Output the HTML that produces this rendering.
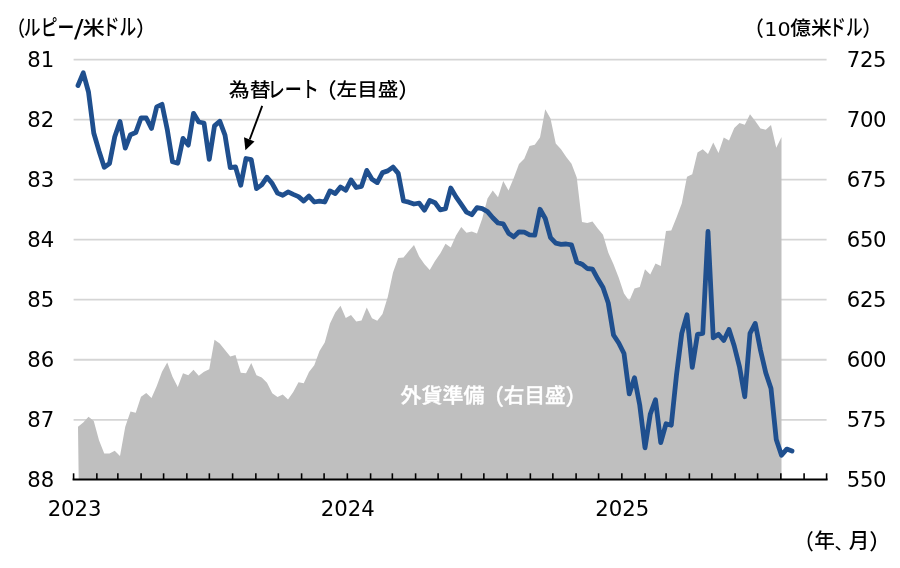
<!DOCTYPE html>
<html lang="ja"><head><meta charset="utf-8"><title>為替レートと外貨準備</title>
<style>html,body{margin:0;padding:0;background:#fff}svg{display:block}text{white-space:pre}</style>
</head><body>
<svg width="900" height="568" viewBox="0 0 900 568">
<rect width="900" height="568" fill="#fff"/>
<line x1="73.6" x2="826.6" y1="59.60" y2="59.60" stroke="#d5d5d5" stroke-width="1.8"/>
<line x1="73.6" x2="826.6" y1="119.63" y2="119.63" stroke="#d5d5d5" stroke-width="1.8"/>
<line x1="73.6" x2="826.6" y1="179.66" y2="179.66" stroke="#d5d5d5" stroke-width="1.8"/>
<line x1="73.6" x2="826.6" y1="239.69" y2="239.69" stroke="#d5d5d5" stroke-width="1.8"/>
<line x1="73.6" x2="826.6" y1="299.72" y2="299.72" stroke="#d5d5d5" stroke-width="1.8"/>
<line x1="73.6" x2="826.6" y1="359.75" y2="359.75" stroke="#d5d5d5" stroke-width="1.8"/>
<line x1="73.6" x2="826.6" y1="419.78" y2="419.78" stroke="#d5d5d5" stroke-width="1.8"/>
<polygon fill="#bfbfbf" points="78.70,479.6 78.00,426.8 83.25,422.6 88.50,416.8 93.75,421.0 99.00,440.2 104.25,453.6 109.50,453.6 114.75,450.7 120.00,456.1 125.25,426.8 130.50,411.5 135.75,412.7 141.00,396.8 146.25,393.1 151.50,398.1 156.75,386.0 162.00,371.8 167.25,362.6 172.50,376.8 177.75,386.9 183.00,373.2 188.25,375.2 193.50,369.8 198.75,375.7 204.00,371.8 209.25,369.3 214.50,339.7 219.75,343.4 225.00,350.1 230.25,356.4 235.50,355.1 240.75,372.7 246.00,373.2 251.25,363.1 256.50,375.2 261.75,377.5 267.00,382.8 272.25,393.2 277.50,397.0 282.75,394.5 288.00,399.5 293.25,392.0 298.50,382.3 303.75,383.3 309.00,371.9 314.25,365.2 319.50,351.0 324.75,342.6 330.00,323.4 335.25,312.5 340.50,305.8 345.75,318.0 351.00,315.0 356.25,321.4 361.50,320.4 366.75,307.4 372.00,318.3 377.25,320.8 382.50,313.9 387.75,296.9 393.00,272.6 398.25,258.1 403.50,257.6 408.75,250.9 414.00,245.1 419.25,256.8 424.50,264.3 429.75,270.1 435.00,260.9 440.25,253.4 445.50,243.7 450.75,247.6 456.00,235.6 461.25,226.9 466.50,232.8 471.75,231.6 477.00,233.6 482.25,218.6 487.50,198.5 492.75,190.6 498.00,197.2 503.25,181.0 508.50,190.5 513.75,178.0 519.00,163.9 524.25,158.7 529.50,146.0 534.75,144.8 540.00,137.6 545.25,109.2 550.50,118.4 555.75,143.5 561.00,149.3 566.25,156.9 571.50,163.7 576.75,177.5 582.00,222.0 587.25,223.0 592.50,221.5 597.75,228.4 603.00,234.7 608.25,252.6 613.50,264.3 618.75,277.7 624.00,293.6 629.25,301.1 634.50,288.6 639.75,286.9 645.00,269.3 650.25,274.4 655.50,263.5 660.75,266.0 666.00,230.9 671.25,230.4 676.50,217.5 681.75,203.6 687.00,176.8 692.25,174.2 697.50,152.6 702.75,149.3 708.00,154.0 713.25,142.6 718.50,153.0 723.75,137.6 729.00,140.5 734.25,128.1 739.50,123.1 744.75,124.8 750.00,114.3 755.25,121.0 760.50,128.5 765.75,129.8 771.00,125.1 776.25,147.7 781.50,137.0 781.50,479.6"/>
<line x1="72.6" x2="827.6" y1="479.6" y2="479.6" stroke="#000" stroke-width="2"/>
<line x1="73.60" x2="73.60" y1="473.3" y2="479.6" stroke="#000" stroke-width="1.6"/>
<line x1="96.85" x2="96.85" y1="473.3" y2="479.6" stroke="#000" stroke-width="1.6"/>
<line x1="117.85" x2="117.85" y1="473.3" y2="479.6" stroke="#000" stroke-width="1.6"/>
<line x1="141.10" x2="141.10" y1="473.3" y2="479.6" stroke="#000" stroke-width="1.6"/>
<line x1="163.60" x2="163.60" y1="473.3" y2="479.6" stroke="#000" stroke-width="1.6"/>
<line x1="186.85" x2="186.85" y1="473.3" y2="479.6" stroke="#000" stroke-width="1.6"/>
<line x1="209.35" x2="209.35" y1="473.3" y2="479.6" stroke="#000" stroke-width="1.6"/>
<line x1="232.60" x2="232.60" y1="473.3" y2="479.6" stroke="#000" stroke-width="1.6"/>
<line x1="255.85" x2="255.85" y1="473.3" y2="479.6" stroke="#000" stroke-width="1.6"/>
<line x1="278.35" x2="278.35" y1="473.3" y2="479.6" stroke="#000" stroke-width="1.6"/>
<line x1="301.60" x2="301.60" y1="473.3" y2="479.6" stroke="#000" stroke-width="1.6"/>
<line x1="324.10" x2="324.10" y1="473.3" y2="479.6" stroke="#000" stroke-width="1.6"/>
<line x1="347.35" x2="347.35" y1="473.3" y2="479.6" stroke="#000" stroke-width="1.6"/>
<line x1="370.60" x2="370.60" y1="473.3" y2="479.6" stroke="#000" stroke-width="1.6"/>
<line x1="392.35" x2="392.35" y1="473.3" y2="479.6" stroke="#000" stroke-width="1.6"/>
<line x1="415.60" x2="415.60" y1="473.3" y2="479.6" stroke="#000" stroke-width="1.6"/>
<line x1="438.10" x2="438.10" y1="473.3" y2="479.6" stroke="#000" stroke-width="1.6"/>
<line x1="461.35" x2="461.35" y1="473.3" y2="479.6" stroke="#000" stroke-width="1.6"/>
<line x1="483.85" x2="483.85" y1="473.3" y2="479.6" stroke="#000" stroke-width="1.6"/>
<line x1="507.10" x2="507.10" y1="473.3" y2="479.6" stroke="#000" stroke-width="1.6"/>
<line x1="530.35" x2="530.35" y1="473.3" y2="479.6" stroke="#000" stroke-width="1.6"/>
<line x1="552.85" x2="552.85" y1="473.3" y2="479.6" stroke="#000" stroke-width="1.6"/>
<line x1="576.10" x2="576.10" y1="473.3" y2="479.6" stroke="#000" stroke-width="1.6"/>
<line x1="598.60" x2="598.60" y1="473.3" y2="479.6" stroke="#000" stroke-width="1.6"/>
<line x1="621.85" x2="621.85" y1="473.3" y2="479.6" stroke="#000" stroke-width="1.6"/>
<line x1="645.10" x2="645.10" y1="473.3" y2="479.6" stroke="#000" stroke-width="1.6"/>
<line x1="666.10" x2="666.10" y1="473.3" y2="479.6" stroke="#000" stroke-width="1.6"/>
<line x1="689.35" x2="689.35" y1="473.3" y2="479.6" stroke="#000" stroke-width="1.6"/>
<line x1="711.85" x2="711.85" y1="473.3" y2="479.6" stroke="#000" stroke-width="1.6"/>
<line x1="735.10" x2="735.10" y1="473.3" y2="479.6" stroke="#000" stroke-width="1.6"/>
<line x1="757.60" x2="757.60" y1="473.3" y2="479.6" stroke="#000" stroke-width="1.6"/>
<line x1="780.85" x2="780.85" y1="473.3" y2="479.6" stroke="#000" stroke-width="1.6"/>
<line x1="804.10" x2="804.10" y1="473.3" y2="479.6" stroke="#000" stroke-width="1.6"/>
<line x1="826.60" x2="826.60" y1="473.3" y2="479.6" stroke="#000" stroke-width="1.6"/>
<polyline fill="none" stroke="#1f4f8e" stroke-width="4.8" stroke-linejoin="round" stroke-linecap="round" points="78.00,85.5 83.25,72.8 88.50,92.0 93.75,133.0 99.00,150.9 104.25,167.2 109.50,163.5 114.75,136.8 120.00,121.4 125.25,148.1 130.50,134.7 135.75,132.6 141.00,118.0 146.25,118.0 151.50,128.4 156.75,106.8 162.00,104.3 167.25,129.4 172.50,161.8 177.75,163.2 183.00,138.4 188.25,145.1 193.50,113.3 198.75,122.0 204.00,123.0 209.25,159.3 214.50,125.9 219.75,121.2 225.00,135.1 230.25,167.7 235.50,166.9 240.75,185.3 246.00,158.5 251.25,159.7 256.50,188.6 261.75,184.9 267.00,177.2 272.25,183.6 277.50,193.1 282.75,195.3 288.00,191.9 293.25,194.4 298.50,196.6 303.75,201.1 309.00,196.1 314.25,202.0 319.50,201.1 324.75,202.0 330.00,190.9 335.25,193.6 340.50,186.9 345.75,190.3 351.00,180.0 356.25,187.5 361.50,186.3 366.75,170.4 372.00,179.3 377.25,182.6 382.50,172.6 387.75,170.9 393.00,167.1 398.25,173.4 403.50,201.0 408.75,202.2 414.00,204.0 419.25,203.2 424.50,210.2 429.75,200.5 435.00,202.7 440.25,209.9 445.50,208.6 450.75,188.0 456.00,196.9 461.25,204.4 466.50,212.2 471.75,214.7 477.00,207.6 482.25,208.6 487.50,211.6 492.75,217.7 498.00,223.0 503.25,223.8 508.50,233.2 513.75,236.9 519.00,231.8 524.25,232.2 529.50,234.8 534.75,235.2 540.00,209.3 545.25,218.5 550.50,237.7 555.75,243.2 561.00,244.4 566.25,244.0 571.50,244.9 576.75,262.0 582.00,264.2 587.25,268.5 592.50,269.2 597.75,278.8 603.00,287.6 608.25,303.0 613.50,335.0 618.75,343.0 624.00,353.5 629.25,393.9 634.50,377.8 639.75,405.1 645.00,447.8 650.25,414.3 655.50,399.8 660.75,442.7 666.00,423.8 671.25,425.2 676.50,375.0 681.75,333.4 687.00,314.8 692.25,367.3 697.50,334.3 702.75,333.4 708.00,231.5 713.25,337.8 718.50,334.3 723.75,340.5 729.00,329.5 734.25,346.0 739.50,366.9 744.75,396.7 750.00,333.4 755.25,323.4 760.50,350.2 765.75,372.7 771.00,388.5 776.25,439.5 781.50,455.3 786.75,449.1 792.00,451.1"/>
<line x1="262.2" y1="105.8" x2="249.7" y2="139.5" stroke="#000" stroke-width="1.9"/>
<polygon points="245.4,150.3 244.0,137.3 254.5,141.4" fill="#000"/>
<text font-family="DejaVu Sans, Liberation Sans, sans-serif" font-size="21.2" x="54.2" y="66.6" text-anchor="end">81</text>
<text font-family="DejaVu Sans, Liberation Sans, sans-serif" font-size="21.2" x="54.2" y="126.6" text-anchor="end">82</text>
<text font-family="DejaVu Sans, Liberation Sans, sans-serif" font-size="21.2" x="54.2" y="186.7" text-anchor="end">83</text>
<text font-family="DejaVu Sans, Liberation Sans, sans-serif" font-size="21.2" x="54.2" y="246.7" text-anchor="end">84</text>
<text font-family="DejaVu Sans, Liberation Sans, sans-serif" font-size="21.2" x="54.2" y="306.7" text-anchor="end">85</text>
<text font-family="DejaVu Sans, Liberation Sans, sans-serif" font-size="21.2" x="54.2" y="366.8" text-anchor="end">86</text>
<text font-family="DejaVu Sans, Liberation Sans, sans-serif" font-size="21.2" x="54.2" y="426.8" text-anchor="end">87</text>
<text font-family="DejaVu Sans, Liberation Sans, sans-serif" font-size="21.2" x="54.2" y="486.8" text-anchor="end">88</text>
<text font-family="DejaVu Sans, Liberation Sans, sans-serif" font-size="21.2" x="846.8" y="66.5" letter-spacing="-0.4">725</text>
<text font-family="DejaVu Sans, Liberation Sans, sans-serif" font-size="21.2" x="846.8" y="126.5" letter-spacing="-0.4">700</text>
<text font-family="DejaVu Sans, Liberation Sans, sans-serif" font-size="21.2" x="846.8" y="186.6" letter-spacing="-0.4">675</text>
<text font-family="DejaVu Sans, Liberation Sans, sans-serif" font-size="21.2" x="846.8" y="246.6" letter-spacing="-0.4">650</text>
<text font-family="DejaVu Sans, Liberation Sans, sans-serif" font-size="21.2" x="846.8" y="306.6" letter-spacing="-0.4">625</text>
<text font-family="DejaVu Sans, Liberation Sans, sans-serif" font-size="21.2" x="846.8" y="366.6" letter-spacing="-0.4">600</text>
<text font-family="DejaVu Sans, Liberation Sans, sans-serif" font-size="21.2" x="846.8" y="426.7" letter-spacing="-0.4">575</text>
<text font-family="DejaVu Sans, Liberation Sans, sans-serif" font-size="21.2" x="846.8" y="486.7" letter-spacing="-0.4">550</text>
<text font-family="DejaVu Sans, Liberation Sans, sans-serif" font-size="21.2" x="74.6" y="515.7" text-anchor="middle">2023</text>
<text font-family="DejaVu Sans, Liberation Sans, sans-serif" font-size="21.2" x="347.8" y="515.7" text-anchor="middle">2024</text>
<text font-family="DejaVu Sans, Liberation Sans, sans-serif" font-size="21.2" x="622.2" y="515.7" text-anchor="middle">2025</text>
<g id="unitL"><text font-family="Liberation Sans, Noto Sans CJK JP, sans-serif" font-weight="500" font-size="20.63" fill="#000" transform="translate(7.03 35.54) scale(0.881 1)">（</text><text font-family="Liberation Sans, Noto Sans CJK JP, sans-serif" font-weight="500" font-size="21.49" fill="#000" transform="translate(23.84 35.23) scale(0.784 1)">ルピー</text><text font-family="DejaVu Sans, Liberation Sans, sans-serif" font-weight="400" font-size="24.36" fill="#000" transform="translate(74.00 37.07) scale(1.162 1)">/</text><text font-family="Liberation Sans, Noto Sans CJK JP, sans-serif" font-weight="500" font-size="19.37" fill="#000" transform="translate(82.58 35.26) scale(1.153 1)">米</text><text font-family="Liberation Sans, Noto Sans CJK JP, sans-serif" font-weight="500" font-size="22.42" fill="#000" transform="translate(102.66 35.38) scale(0.749 1)">ドル</text><text font-family="Liberation Sans, Noto Sans CJK JP, sans-serif" font-weight="500" font-size="20.63" fill="#000" transform="translate(136.12 35.54) scale(0.952 1)">）</text></g>
<g id="unitR"><text font-family="Liberation Sans, Noto Sans CJK JP, sans-serif" font-weight="500" font-size="20.63" fill="#000" transform="translate(744.25 35.54) scale(0.952 1)">（</text><text font-family="DejaVu Sans, Liberation Sans, sans-serif" font-weight="400" font-size="20.27" fill="#000" transform="translate(764.33 35.80) scale(1.023 1)">10</text><text font-family="Liberation Sans, Noto Sans CJK JP, sans-serif" font-weight="500" font-size="19.79" fill="#000" transform="translate(790.28 35.22) scale(1.050 1)">億米</text><text font-family="Liberation Sans, Noto Sans CJK JP, sans-serif" font-weight="500" font-size="22.18" fill="#000" transform="translate(829.28 35.19) scale(0.754 1)">ドル</text><text font-family="Liberation Sans, Noto Sans CJK JP, sans-serif" font-weight="500" font-size="20.63" fill="#000" transform="translate(862.22 35.54) scale(0.952 1)">）</text></g>
<g id="lab1"><text font-family="Liberation Sans, Noto Sans CJK JP, sans-serif" font-weight="500" font-size="19.68" fill="#000" transform="translate(228.78 96.53) scale(1.064 1)">為替</text><text font-family="Liberation Sans, Noto Sans CJK JP, sans-serif" font-weight="500" font-size="21.94" fill="#000" transform="translate(267.66 97.40) scale(0.778 1)">レート</text><text font-family="Liberation Sans, Noto Sans CJK JP, sans-serif" font-weight="500" font-size="20.84" fill="#000" transform="translate(315.32 97.52) scale(1.029 1)">（</text><text font-family="Liberation Sans, Noto Sans CJK JP, sans-serif" font-weight="500" font-size="18.63" fill="#000" transform="translate(336.58 96.24) scale(1.106 1)">左目盛</text><text font-family="Liberation Sans, Noto Sans CJK JP, sans-serif" font-weight="500" font-size="20.84" fill="#000" transform="translate(398.23 97.52) scale(1.029 1)">）</text></g>
<g id="lab2"><text font-family="Liberation Sans, Noto Sans CJK JP, sans-serif" font-weight="500" font-size="20.21" fill="#fff" stroke="#fff" stroke-width="0.35" transform="translate(400.47 403.18) scale(1.040 1)">外貨準備</text><text font-family="Liberation Sans, Noto Sans CJK JP, sans-serif" font-weight="500" font-size="22.00" fill="#fff" stroke="#fff" stroke-width="0.35" transform="translate(482.86 404.10) scale(0.959 1)">（</text><text font-family="Liberation Sans, Noto Sans CJK JP, sans-serif" font-weight="500" font-size="20.00" fill="#fff" stroke="#fff" stroke-width="0.35" transform="translate(503.78 403.00) scale(1.031 1)">右目盛</text><text font-family="Liberation Sans, Noto Sans CJK JP, sans-serif" font-weight="500" font-size="22.00" fill="#fff" stroke="#fff" stroke-width="0.35" transform="translate(565.43 404.10) scale(0.975 1)">）</text></g>
<g id="xunit"><text font-family="Liberation Sans, Noto Sans CJK JP, sans-serif" font-weight="500" font-size="21.37" fill="#000" transform="translate(794.59 548.76) scale(0.902 1)">（</text><text font-family="Liberation Sans, Noto Sans CJK JP, sans-serif" font-weight="500" font-size="20.21" fill="#000" transform="translate(814.37 548.38) scale(1.023 1)">年</text><text font-family="Liberation Sans, Noto Sans CJK JP, sans-serif" font-weight="500" font-size="15.27" fill="#000" transform="translate(834.52 548.65) scale(1.157 1)">、</text><text font-family="Liberation Sans, Noto Sans CJK JP, sans-serif" font-weight="500" font-size="20.78" fill="#000" transform="translate(848.79 548.32) scale(0.987 1)">月</text><text font-family="Liberation Sans, Noto Sans CJK JP, sans-serif" font-weight="500" font-size="21.37" fill="#000" transform="translate(869.33 548.76) scale(1.004 1)">）</text></g>
</svg>
</body></html>
